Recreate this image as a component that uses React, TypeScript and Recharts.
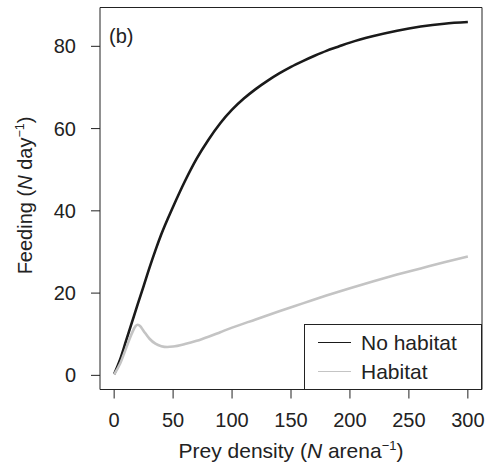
import React from 'react';
import { LineChart, Line, XAxis, YAxis, ReferenceArea, Legend, Label } from 'recharts';

// Prey density (x) and feeding rate (y)
const noHabitatX = [0, 5, 10, 15, 20, 25, 30, 35, 40, 50, 60, 70, 80, 90, 100, 110, 120, 130, 140, 150, 160, 170, 180, 190, 200, 220, 240, 260, 280, 300];
const noHabitatY = [0.3, 3.8, 8.3, 12.8, 17.3, 21.7, 26.2, 30.4, 34.3, 41.0, 47.2, 52.7, 57.3, 61.3, 64.6, 67.3, 69.6, 71.6, 73.4, 75.0, 76.4, 77.7, 78.9, 79.9, 80.9, 82.5, 83.8, 84.8, 85.5, 85.9];

const habitatX = [0, 5, 10, 15, 18, 20, 22, 25, 30, 35, 40, 45, 50, 60, 70, 80, 90, 100, 120, 140, 160, 180, 200, 220, 240, 260, 280, 300];
const habitatY = [0.2, 2.8, 6.5, 10.2, 11.9, 12.3, 12.0, 10.8, 8.9, 7.7, 7.1, 6.9, 7.0, 7.6, 8.4, 9.4, 10.5, 11.6, 13.6, 15.6, 17.5, 19.4, 21.2, 22.9, 24.5, 26.0, 27.5, 28.9];

const seriesNames = ['No habitat', 'Habitat'];
const seriesColors = ['#1a1a1a', '#c4c4c4'];
const xTicks = [0, 50, 100, 150, 200, 250, 300];
const yTicks = [0, 20, 40, 60, 80];
const xDomain = [-12, 312];
const yDomain = [-3.44, 89.44];
const panelLabel = '(b)';

const noHabitatData = noHabitatX.map((x, i) => ({ x, y: noHabitatY[i] }));
const habitatData = habitatX.map((x, i) => ({ x, y: habitatY[i] }));

const FONT = '"Liberation Sans", Arial, Helvetica, sans-serif';
const INK = '#222';

const XTitle = (props: any) => {
  const vb = props.viewBox || {};
  const cx = vb.x + vb.width / 2;
  return (
    <text x={cx} y={458} textAnchor="middle" fontFamily={FONT} fontSize={21} fill={INK}>
      <tspan>Prey density (</tspan>
      <tspan fontStyle="italic">N</tspan>
      <tspan> arena</tspan>
      <tspan dy={-8} fontSize={13}>−1</tspan>
      <tspan dy={8}>)</tspan>
    </text>
  );
};

const YTitle = (props: any) => {
  const vb = props.viewBox || {};
  const cy = vb.y + vb.height / 2 - 3;
  return (
    <text
      x={0}
      y={0}
      transform={`translate(32, ${cy}) rotate(-90)`}
      textAnchor="middle"
      fontFamily={FONT}
      fontSize={20}
      fill={INK}
    >
      <tspan>Feeding (</tspan>
      <tspan fontStyle="italic">N</tspan>
      <tspan> day</tspan>
      <tspan dy={-8} fontSize={12.5}>−1</tspan>
      <tspan dy={8}>)</tspan>
    </text>
  );
};

const PanelTag = (props: any) => {
  const vb = props.viewBox || {};
  return (
    <text x={vb.x + 9} y={vb.y + 35} fontFamily={FONT} fontSize={20} fill={INK}>
      {panelLabel}
    </text>
  );
};

const renderLegend = (props: any) => {
  const payload = [...(props.payload || [])].sort(
    (a: any, b: any) => seriesNames.indexOf(a.value) - seriesNames.indexOf(b.value)
  );
  return (
    <div
      style={{
        position: 'relative',
        width: 178,
        height: 66,
        boxSizing: 'border-box',
        border: `1px solid ${INK}`,
        background: '#fff',
        fontFamily: FONT,
        fontSize: 21,
        color: INK,
      }}
    >
      {payload.map((entry: any, i: number) => (
        <div key={i} style={{ position: 'absolute', left: 0, top: 5 + i * 29, height: 26, width: 176 }}>
          <div
            style={{
              position: 'absolute',
              left: 13,
              top: 12,
              width: 33,
              height: 0,
              borderTop: `1.5px solid ${entry.color}`,
            }}
          />
          <span style={{ position: 'absolute', left: 56, top: 0, lineHeight: '26px', whiteSpace: 'nowrap' }}>
            {entry.value}
          </span>
        </div>
      ))}
    </div>
  );
};

export default function App() {
  return (
    <div style={{ position: 'absolute', left: 0, top: 0, width: 492, height: 465, background: '#fff' }}>
      <LineChart width={492} height={465} margin={{ top: 7.5, right: 10, bottom: 0, left: 0 }}>
        <XAxis
          dataKey="x"
          type="number"
          domain={xDomain}
          ticks={xTicks}
          allowDataOverflow
          axisLine={false}
          tickLine={{ stroke: INK, strokeWidth: 1 }}
          tickSize={9}
          tickMargin={14}
          height={75.5}
          tick={{ fill: INK, fontSize: 20, fontFamily: FONT }}
        >
          <Label content={XTitle} />
        </XAxis>
        <YAxis
          dataKey="y"
          type="number"
          domain={yDomain}
          ticks={yTicks}
          allowDataOverflow
          axisLine={false}
          tickLine={{ stroke: INK, strokeWidth: 1 }}
          tickSize={9}
          tickMargin={15}
          width={100}
          tick={{ fill: INK, fontSize: 20, fontFamily: FONT }}
        >
          <Label content={YTitle} />
        </YAxis>
        <ReferenceArea
          x1={xDomain[0]}
          x2={xDomain[1]}
          y1={yDomain[0]}
          y2={yDomain[1]}
          fill="none"
          stroke={INK}
          strokeWidth={1}
          ifOverflow="extendDomain"
        >
          <Label content={PanelTag} />
        </ReferenceArea>
        <Line
          data={noHabitatData}
          dataKey="y"
          name={seriesNames[0]}
          type="monotone"
          stroke={seriesColors[0]}
          strokeWidth={2.6}
          dot={false}
          activeDot={false}
          isAnimationActive={false}
        />
        <Line
          data={habitatData}
          dataKey="y"
          name={seriesNames[1]}
          type="monotone"
          stroke={seriesColors[1]}
          strokeWidth={2.6}
          dot={false}
          activeDot={false}
          isAnimationActive={false}
        />
        <Legend
          layout="vertical"
          align="center"
          verticalAlign="middle"
          itemSorter={(item: any) => seriesNames.indexOf(item.value)}
          wrapperStyle={{ left: 304, top: 324, width: 178, height: 66 }}
          content={renderLegend}
        />
      </LineChart>
    </div>
  );
}
